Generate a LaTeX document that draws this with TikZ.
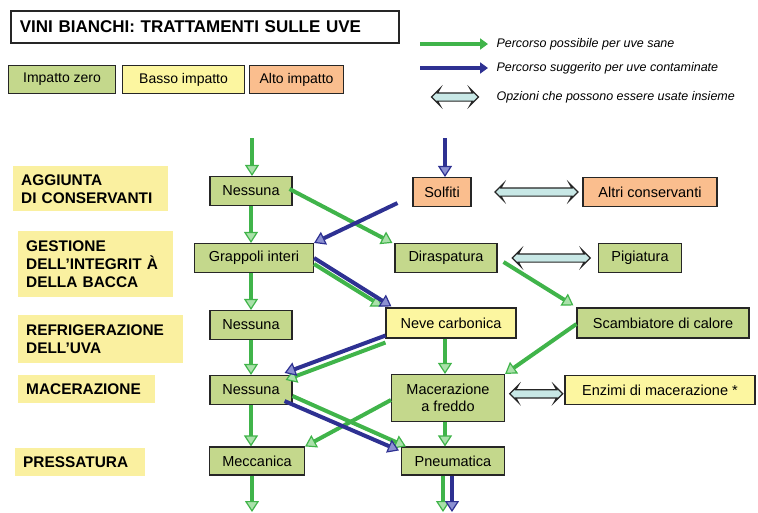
\documentclass[tikz,border=0pt]{standalone}
\usepackage{fontspec}
\setmainfont{Liberation Sans}
\usetikzlibrary{arrows.meta,shapes.arrows}

\definecolor{zerofill}{RGB}{196,216,140}
\definecolor{lowfill}{RGB}{252,246,160}
\definecolor{highfill}{RGB}{250,190,142}
\definecolor{phasefill}{RGB}{250,240,160}
\definecolor{okcol}{RGB}{64,180,74}
\definecolor{okfill}{RGB}{170,225,170}
\definecolor{badcol}{RGB}{46,49,146}
\definecolor{badfill}{RGB}{140,145,210}
\definecolor{cyanfill}{RGB}{200,232,230}

\tikzset{
  box/.style={draw=black!85, line width=1.1pt, minimum height=29pt, inner xsep=5pt,
    font=\fontsize{14.5}{17}\selectfont},
  zerobox/.style={box, fill=zerofill},
  lowbox/.style={box, fill=lowfill},
  highbox/.style={box, fill=highfill},
  phasebox/.style={fill=phasefill, anchor=north west, align=left, inner xsep=8pt,
    inner ysep=0pt, font=\bfseries\fontsize{15.4}{18}\selectfont},
  okpath/.style={line width=4pt, okcol,
    -{Triangle[length=11pt, width=14pt, line width=1.2pt, fill=okfill]}},
  badpath/.style={line width=4pt, badcol,
    -{Triangle[length=11pt, width=14pt, line width=1.2pt, fill=badfill]}},
  optarrow/.style={double arrow, draw=black!85, line width=1.2pt, fill=cyanfill,
    inner xsep=0pt, inner ysep=3.5pt, double arrow head extend=4.5pt,
    double arrow head indent=2.5pt, minimum height=#1},
  legtxt/.style={anchor=west, font=\itshape\fontsize{12.5}{15}\selectfont}
}

\begin{document}
\begin{tikzpicture}[x=1pt, y=-1pt]
\useasboundingbox (0,0) rectangle (758,512);

% title and legend
\node[draw=black!85, line width=1.6pt, anchor=north west, minimum height=32pt,
  text width=370pt, inner xsep=9pt, font=\bfseries\fontsize{17}{20}\selectfont]
  (title) at (10,10) {VINI BIANCHI: TRATTAMENTI SULLE UVE};

\node[zerobox, anchor=north west, minimum width=107pt, minimum height=28pt, font=\fontsize{14}{16}\selectfont] (kzero) at (8,65) {Impatto zero};
\node[lowbox, anchor=north west, minimum width=122pt, minimum height=28pt, font=\fontsize{14}{16}\selectfont] (klow) at (122,65) {Basso impatto};
\node[highbox, anchor=north west, minimum width=94pt, minimum height=28pt, font=\fontsize{14}{16}\selectfont] (khigh) at (249,65) {Alto impatto};

\coordinate (g0) at (420,44); \coordinate (g1) at (488,44);
\coordinate (b0) at (420,68); \coordinate (b1) at (488,68);
\draw[line width=3.5pt, okcol, -{Triangle[length=8pt, width=11pt]}] (g0) -- (g1);
\draw[line width=3.5pt, badcol, -{Triangle[length=8pt, width=11pt]}] (b0) -- (b1);
\node[optarrow=47pt] (kopt) at (455,97) {};
\node[legtxt] (tok) at (493,44) {Percorso possibile per uve sane};
\node[legtxt] (tbad) at (493,68) {Percorso suggerito per uve contaminate};
\node[legtxt] (topt) at (493,97) {Opzioni che possono essere usate insieme};

% phases
\node[phasebox, text width=139pt, minimum height=45pt] (p1) at (13,166) {AGGIUNTA\\DI CONSERVANTI};
\node[phasebox, text width=139pt, minimum height=66pt] (p2) at (18,231) {GESTIONE\\DELL'INTEGRIT À\\DELLA BACCA};
\node[phasebox, text width=149pt, minimum height=48pt] (p3) at (18,315) {REFRIGERAZIONE\\DELL'UVA};
\node[phasebox, text width=121pt, minimum height=28pt] (p4) at (18,375) {MACERAZIONE};
\node[phasebox, text width=114pt, minimum height=28pt] (p5) at (15,448) {PRESSATURA};

% options
\node[zerobox, minimum width=82pt] (n1) at (251,191) {Nessuna};
\node[highbox, minimum width=58pt] (solfiti) at (442,192) {Solfiti};
\node[highbox, minimum width=134pt] (altri) at (650,192) {Altri conservanti};
\node[zerobox, minimum width=119pt] (grappoli) at (254,258) {Grappoli interi};
\node[zerobox, minimum width=102pt] (diraspa) at (446,258) {Diraspatura};
\node[zerobox, minimum width=83pt] (pigia) at (640,258) {Pigiatura};
\node[zerobox, minimum width=82pt] (n2) at (251,325) {Nessuna};
\node[lowbox, minimum width=130pt, minimum height=30pt] (neve) at (451,323) {Neve carbonica};
\node[zerobox, minimum width=172pt, minimum height=30pt] (scamb) at (663,323) {Scambiatore di calore};
\node[zerobox, minimum width=82pt] (n3) at (251,390) {Nessuna};
\node[zerobox, minimum width=113pt, minimum height=47pt, align=center] (macer) at (448,398) {Macerazione\\a freddo};
\node[lowbox, minimum width=190pt] (enzimi) at (660,390) {Enzimi di macerazione *};
\node[zerobox, minimum width=95pt, minimum height=28pt] (mecc) at (257,461) {Meccanica};
\node[zerobox, minimum width=103pt, minimum height=28pt] (pneu) at (453,461) {Pneumatica};

\coordinate (in1) at (252,138);
\coordinate (in2) at (445,138);
\coordinate (out1) at (252,512);
\coordinate (out2) at (443,512);
\coordinate (out3) at (452,512);

% green paths
\draw[okpath] (in1) -- (in1 |- n1.north);
\draw[okpath] (n1.south) -- (n1.south |- grappoli.north);
\draw[okpath] (grappoli.south -| n2) -- (n2.north);
\draw[okpath] (n2.south) -- (n3.north);
\draw[okpath] (n3.south) -- (n3.south |- mecc.north);
\draw[okpath] (mecc.south -| out1) -- (out1);
\draw[okpath] ([xshift=-3pt,yshift=2pt]n1.east) -- ([xshift=-2pt]diraspa.north west);
\draw[okpath] ([yshift=-6pt]grappoli.east) -- ([xshift=-3pt,yshift=1pt]neve.north west);
\draw[okpath] ([xshift=6pt,yshift=-4pt]diraspa.east) -- ([xshift=-3pt,yshift=2pt]scamb.north west);
\draw[okpath] ([yshift=-1pt]scamb.west) -- (macer.north east);
\draw[okpath] ([yshift=-4pt]neve.south west) -- ([xshift=-7pt,yshift=-5pt]n3.north east);
\draw[okpath] (neve.south -| in2) -- (in2 |- macer.north);
\draw[okpath] ([yshift=-2pt]macer.west) -- (mecc.north east);
\draw[okpath] ([yshift=-6pt]n3.east) -- ([xshift=5pt]pneu.north west);
\draw[okpath] (macer.south -| in2) -- (in2 |- pneu.north);
\draw[okpath] (pneu.south -| out2) -- (out2);

% blue paths
\draw[badpath] (in2) -- (in2 |- solfiti.north);
\draw[badpath] ([xshift=-15pt,yshift=4pt]solfiti.south west) -- (grappoli.north east);
\draw[badpath] ([yshift=0pt]grappoli.east) -- ([xshift=6pt,yshift=1pt]neve.north west);
\draw[badpath] ([yshift=3pt]neve.south west) -- ([xshift=-8pt,yshift=2pt]n3.north east);
\draw[badpath] ([xshift=-8pt,yshift=4pt]n3.south east) -- ([xshift=-2pt,yshift=-4pt]pneu.north west);
\draw[badpath] (pneu.south -| out3) -- (out3);

% options used together
\path (solfiti.east) -- node[optarrow=83pt, pos=0.585] (o1) {} (altri.west);
\path (diraspa.east) -- node[optarrow=78pt, pos=0.535] (o2) {} (pigia.west);
\path (macer.east) -- node[optarrow=53pt, pos=0.525] (o3) {} (enzimi.west);
\end{tikzpicture}
\end{document}
